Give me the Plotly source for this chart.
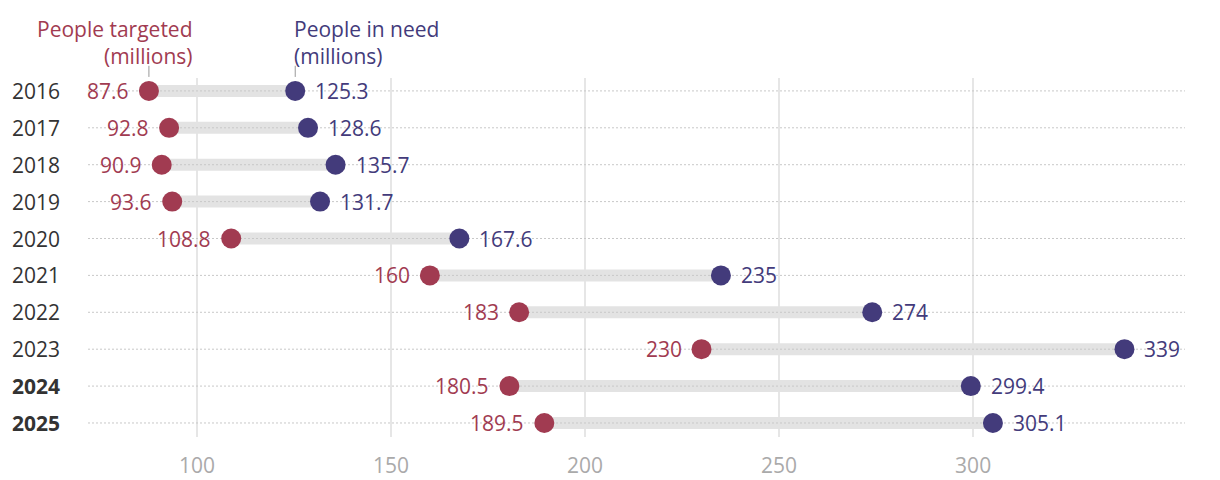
import plotly.graph_objects as go

years = ["2016", "2017", "2018", "2019", "2020", "2021", "2022", "2023", "2024", "2025"]
targeted = [87.6, 92.8, 90.9, 93.6, 108.8, 160, 183, 230, 180.5, 189.5]
in_need = [125.3, 128.6, 135.7, 131.7, 167.6, 235, 274, 339, 299.4, 305.1]
bold_years = ["2024", "2025"]
x_ticks = [100, 150, 200, 250, 300]

RED = "#a13b51"
PURPLE = "#433b7b"
FONT = "Open Sans"
FS = 21
W, H = 1212, 472
ML, MR, MT, MB = 80, 35, 70, 43
XR = [71.9, 354.6]
YR = [9.38, -0.35]
plot_w = W - ML - MR

idx = list(range(len(years)))

fig = go.Figure()

# connecting bars
bx, by = [], []
for i, t, n in zip(idx, targeted, in_need):
    bx += [t, n, None]
    by += [i, i, None]
fig.add_trace(go.Scatter(x=bx, y=by, mode="lines", line=dict(color="#e3e3e3", width=12),
                         hoverinfo="skip", showlegend=False))

# dotted row guides
gx, gy = [], []
for i in idx:
    gx += [XR[0], XR[1], None]
    gy += [i, i, None]
fig.add_trace(go.Scatter(x=gx, y=gy, mode="lines",
                         line=dict(color="#c8c8c8", width=1, dash="2px,2px"),
                         hoverinfo="skip", showlegend=False))

fig.add_trace(go.Scatter(x=targeted, y=idx, mode="markers",
                         marker=dict(size=20, color=RED), showlegend=False))
fig.add_trace(go.Scatter(x=in_need, y=idx, mode="markers",
                         marker=dict(size=20, color=PURPLE), showlegend=False))

ann = []
for i, t, n in zip(idx, targeted, in_need):
    ann.append(dict(x=t, y=i, xref="x", yref="y", text=f"{t:g}", showarrow=False,
                    xanchor="right", yanchor="middle", xshift=-18,
                    font=dict(family=FONT, size=FS, color=RED)))
    ann.append(dict(x=n, y=i, xref="x", yref="y", text=f"{n:g}", showarrow=False,
                    xanchor="left", yanchor="middle", xshift=18,
                    font=dict(family=FONT, size=FS, color=PURPLE)))

for i, yv in zip(idx, years):
    txt = f"<b>{yv}</b>" if yv in bold_years else yv
    ann.append(dict(x=(2 - ML) / plot_w, y=i, xref="paper", yref="y", text=txt,
                    showarrow=False, xanchor="left", yanchor="middle",
                    font=dict(family=FONT, size=FS, color="#333333")))

# header labels
ann.append(dict(x=targeted[0], y=1, xref="x", yref="paper",
                text="People targeted<br>(millions)", showarrow=False, align="right",
                xanchor="right", yanchor="bottom", xshift=46, yshift=6,
                font=dict(family=FONT, size=FS, color=RED)))
ann.append(dict(x=in_need[0], y=1, xref="x", yref="paper",
                text="People in need<br>(millions)", showarrow=False, align="left",
                xanchor="left", yanchor="bottom", xshift=-3, yshift=6,
                font=dict(family=FONT, size=FS, color=PURPLE)))

shapes = []
for xv in (targeted[0], in_need[0]):
    shapes.append(dict(type="line", xref="x", yref="paper", x0=xv, x1=xv,
                       y0=1.003, y1=1.034, line=dict(color="#999999", width=1)))

fig.update_layout(
    width=W, height=H,
    margin=dict(l=ML, r=MR, t=MT, b=MB, autoexpand=False),
    plot_bgcolor="white", paper_bgcolor="white",
    annotations=ann, shapes=shapes,
    xaxis=dict(range=XR, tickvals=x_ticks, showgrid=True, gridcolor="#e6e6e6",
               gridwidth=2, zeroline=False, showline=False, ticks="outside",
               ticklen=10, tickcolor="rgba(0,0,0,0)", automargin=False,
               tickfont=dict(family=FONT, size=FS, color="#aaaaaa")),
    yaxis=dict(range=YR, showgrid=False, zeroline=False, showticklabels=False,
               showline=False, automargin=False),
)

fig.write_html("out.html")
